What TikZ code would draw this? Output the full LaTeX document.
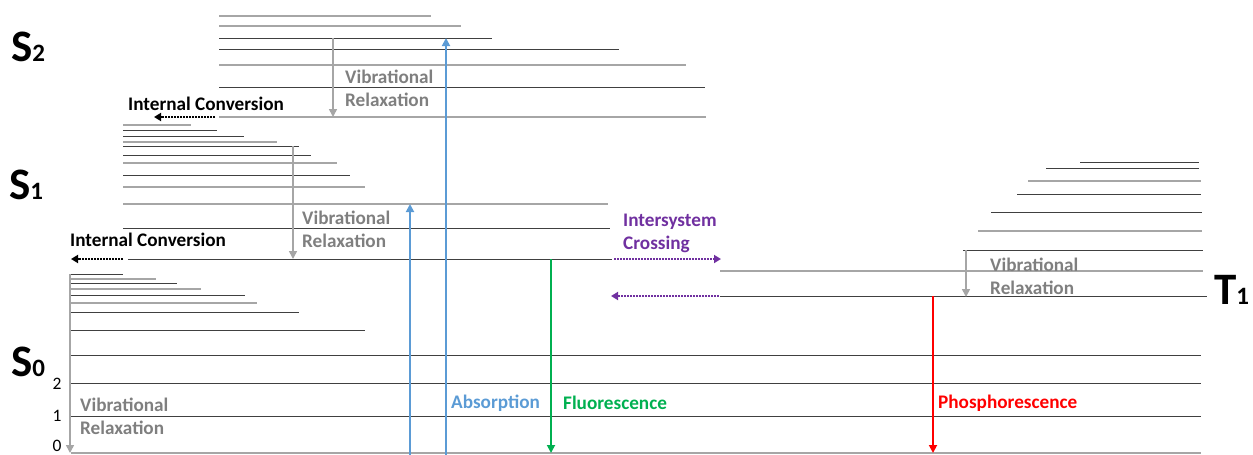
\documentclass[tikz,border=0pt]{standalone}
\usepackage{fontspec}
\setmainfont{Carlito}
\usetikzlibrary{arrows.meta}
\definecolor{lvgray}{HTML}{A6A6A6}
\definecolor{lvdark}{HTML}{404040}
\definecolor{vrtext}{HTML}{7F7F7F}
\definecolor{absblue}{HTML}{5B9BD5}
\definecolor{flgreen}{HTML}{00B050}
\definecolor{phred}{HTML}{FF0000}
\definecolor{iscpurple}{HTML}{7030A0}
\tikzset{
  lg/.style={draw=lvgray,line width=1.3pt},
  ld/.style={draw=lvdark,line width=1pt},
  tip/.style={-{Triangle[length=8pt,width=8pt]}},
  vrarrow/.style={tip,draw=lvgray,line width=1.6pt},
  solidarrow/.style={tip,line width=1.8pt},
  dotarrow/.style={-{Triangle[length=7pt,width=8pt]},line width=2.2pt,dash pattern=on 1.6pt off 1.4pt},
  lbl/.style={font=\fontsize{19.2}{23}\selectfont\bfseries,inner sep=0pt,align=left},
  vrlbl/.style={lbl,text=vrtext,anchor=west},
  big/.style={inner sep=0pt,anchor=west,font=\bfseries},
  num/.style={inner sep=0pt,font=\fontsize{17.5}{17.5}\selectfont}
}
\begin{document}
\begin{tikzpicture}[x=1pt,y=-1pt]
\useasboundingbox (0,0) rectangle (1253,455);
% S2 levels
\foreach \y/\b/\s in {16/431/lg,26/461/lg,38/492/ld,49/619/ld,65/686/lg,87/705/ld,117/706/lg}
  \draw[\s] (219,\y) -- (\b,\y);
% S1 levels
\foreach \y/\a/\b/\s in {125/123/191/lg,130/123/217/ld,136/123/244/ld,142/123/277/lg,146/123/299/ld,155/123/311/ld,163/123/337/lg,175/123/350/ld,187/123/365/lg,204/123/608/lg,228/123/610/ld,259/128/612/ld}
  \draw[\s] (\a,\y) -- (\b,\y);
% S0 levels
\foreach \y/\b/\s in {274/123/ld,279/156/lg,283/177/ld,289/201/lg,295/245/ld,303/257/lg,312/299/ld,330/365/ld,355/1201/ld,383/1201/ld,416/1201/ld,453/1201/lg}
  \draw[\s] (71,\y) -- (\b,\y);
% T1 levels
\foreach \y/\a/\b/\s in {162/1080/1199/ld,168/1046/1199/ld,181/1028/1201/lg,194/1017/1201/ld,212/991/1202/ld,231/978/1202/lg,250/963/1203/ld,271/720/1203/lg,296/720/1207/ld}
  \draw[\s] (\a,\y) -- (\b,\y);

% coordinates for connectors
\coordinate (vr2a) at (333,38);  \coordinate (vr2b) at (333,117);
\coordinate (vr1a) at (293,146); \coordinate (vr1b) at (293,259);
\coordinate (vr0a) at (70,274);  \coordinate (vr0b) at (70,453);
\coordinate (vrta) at (966,250); \coordinate (vrtb) at (966,297);
\coordinate (ab1a) at (410,455); \coordinate (ab1b) at (410,204);
\coordinate (ab2a) at (446,455); \coordinate (ab2b) at (446,38);
\coordinate (fla) at (551,259);  \coordinate (flb) at (551,453);
\coordinate (pha) at (933,296);  \coordinate (phb) at (933,453);
\coordinate (isca) at (614,259); \coordinate (iscb) at (721,259);
\coordinate (rsca) at (719,296); \coordinate (rscb) at (611,296);
\coordinate (ic2a) at (215,117); \coordinate (ic2b) at (154,117);
\coordinate (ic1a) at (123,259); \coordinate (ic1b) at (71,259);

\draw[vrarrow] (vr2a) -- (vr2b);
\draw[vrarrow] (vr1a) -- (vr1b);
\draw[vrarrow] (vr0a) -- (vr0b);
\draw[vrarrow] (vrta) -- (vrtb);
\draw[solidarrow,draw=absblue,fill=absblue] (ab1a) -- (ab1b);
\draw[solidarrow,draw=absblue,fill=absblue] (ab2a) -- (ab2b);
\draw[solidarrow,draw=flgreen,fill=flgreen] (fla) -- (flb);
\draw[solidarrow,draw=phred,fill=phred] (pha) -- (phb);
\draw[dotarrow,draw=iscpurple] (isca) -- (iscb);
\draw[dotarrow,draw=iscpurple] (rsca) -- (rscb);
\draw[dotarrow,draw=black] (ic2a) -- (ic2b);
\draw[dotarrow,draw=black] (ic1a) -- (ic1b);

% labels
\node[vrlbl] (vr2t) at (345,88) {Vibrational\\Relaxation};
\node[vrlbl] (vr1t) at (302,229) {Vibrational\\Relaxation};
\node[vrlbl] (vr0t) at (80,416) {Vibrational\\Relaxation};
\node[vrlbl] (vrtt) at (990,276) {Vibrational\\Relaxation};
\node[lbl,text=iscpurple,anchor=west] (isct) at (623,233) {Intersystem\\Crossing};
\node[lbl,anchor=west] (ic2t) at (128,104) {Internal Conversion};
\node[lbl,anchor=west] (ic1t) at (70,240) {Internal Conversion};
\node[lbl,text=absblue,anchor=west] (abt) at (451,403) {Absorption};
\node[lbl,text=flgreen,anchor=west] (flt) at (563,403) {Fluorescence};
\node[lbl,text=phred,anchor=west] (pht) at (938,403) {Phosphorescence};

\node[big] (s2) at (11,47) {\fontsize{45}{45}\selectfont S\fontsize{25}{25}\selectfont 2};
\node[big] (s1) at (9,185) {\fontsize{45}{45}\selectfont S\fontsize{25}{25}\selectfont 1};
\node[big] (s0) at (11,362) {\fontsize{45}{45}\selectfont S\fontsize{25}{25}\selectfont 0};
\node[big] (t1) at (1214,290) {\fontsize{45}{45}\selectfont T\fontsize{25}{25}\selectfont 1};

\node[num] (n2) at (57,384) {2};
\node[num] (n1) at (57,416) {1};
\node[num] (n0) at (57,446) {0};
\end{tikzpicture}
\end{document}
